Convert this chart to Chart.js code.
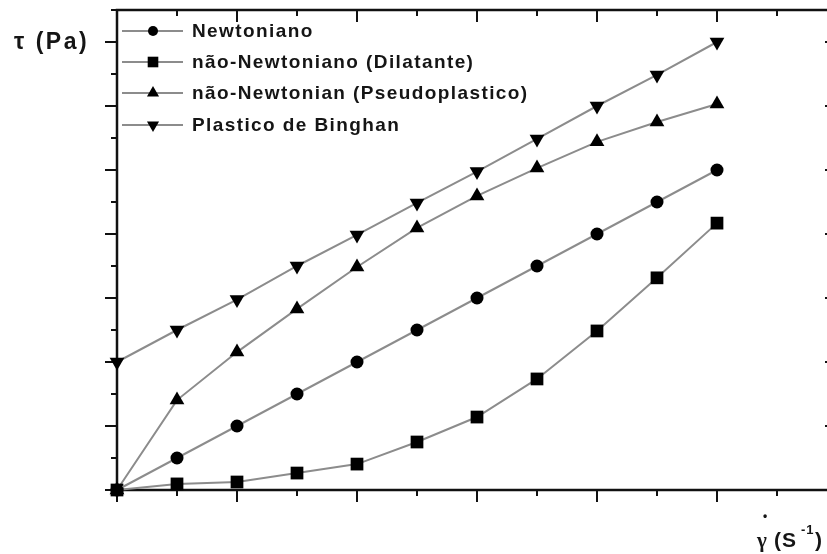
<!DOCTYPE html>
<html>
<head>
<meta charset="utf-8">
<script src="https://cdn.jsdelivr.net/npm/chart.js@4.4.1/dist/chart.umd.min.js"></script>
<style>
  html, body { margin: 0; padding: 0; background: #fff; overflow: hidden; }
  #rheo_chart { display: block; }
</style>
</head>
<body>
<canvas id="rheo_chart" width="850" height="554"></canvas>
<script>
// shear rate steps (the original axis has no numbers, only ticks)
var shear_rate = [0, 1, 2, 3, 4, 5, 6, 7, 8, 9, 10];

// shear stress (1 unit = one minor tick)
var newtoniano  = [0, 1, 2, 3, 4, 5, 6, 7, 8, 9, 10];
var dilatante   = [0, 0.19, 0.25, 0.53, 0.81, 1.5, 2.28, 3.47, 4.97, 6.63, 8.34];
var pseudoplast = [0, 2.81, 4.31, 5.66, 6.97, 8.19, 9.19, 10.06, 10.88, 11.5, 12.06];
var bingham     = [4, 5, 5.95, 7, 7.97, 8.97, 9.95, 10.97, 12, 12.97, 14];

var series_names = ["Newtoniano", "não-Newtoniano (Dilatante)", "não-Newtonian (Pseudoplastico)", "Plastico de Binghan"];

// tick positions (no tick labels on this chart)
var x_major = [0, 2, 4, 6, 8, 10, 12];
var x_minor = [1, 3, 5, 7, 9, 11];
var y_major = [0, 2, 4, 6, 8, 10, 12, 14];
var y_minor = [1, 3, 5, 7, 9, 11, 13, 15];

var markers = [
  { pointStyle: "circle",   radius: 6.5, rotation: 0 },
  { pointStyle: "rect",     radius: 9,   rotation: 0 },
  { pointStyle: "triangle", radius: 8.5, rotation: 0 },
  { pointStyle: "triangle", radius: 8.5, rotation: 180 }
];

function to_points(values) {
  var pts = [];
  for (var i in shear_rate) {
    pts.push({ x: shear_rate[i], y: values[i] });
  }
  return pts;
}

function make_dataset(values, k) {
  return {
    label: series_names[k],
    data: to_points(values),
    borderColor: "#8c8c8c",
    borderWidth: 2,
    backgroundColor: "#000",
    pointBackgroundColor: "#000",
    pointBorderColor: "#000",
    pointBorderWidth: 0,
    pointStyle: markers[k].pointStyle,
    pointRadius: markers[k].radius,
    pointRotation: markers[k].rotation,
    tension: 0,
    fill: false,
    clip: false
  };
}

function line(ctx, x1, y1, x2, y2) {
  ctx.beginPath();
  ctx.moveTo(x1, y1);
  ctx.lineTo(x2, y2);
  ctx.stroke();
}

// box + ticks, drawn under the data like the original
var frame_plugin = {
  id: "frame",
  beforeDatasetsDraw: function(chart) {
    var ctx = chart.ctx, a = chart.chartArea;
    var xs = chart.scales.x, ys = chart.scales.y;
    ctx.save();
    ctx.strokeStyle = "#111";
    ctx.lineWidth = 2.5;
    ctx.strokeRect(a.left, a.top, a.right - a.left, a.bottom - a.top);
    ctx.lineWidth = 2;
    x_major.forEach(function(v) {
      var px = xs.getPixelForValue(v);
      line(ctx, px, a.bottom, px, a.bottom + 12);
      line(ctx, px, a.top, px, a.top + 12);
    });
    x_minor.forEach(function(v) {
      var px = xs.getPixelForValue(v);
      line(ctx, px, a.bottom, px, a.bottom + 6);
      line(ctx, px, a.top, px, a.top + 6);
    });
    y_major.forEach(function(v) {
      var py = ys.getPixelForValue(v);
      line(ctx, a.left, py, a.left - 12, py);
      line(ctx, a.right, py, a.right - 12, py);
    });
    y_minor.forEach(function(v) {
      var py = ys.getPixelForValue(v);
      line(ctx, a.left, py, a.left - 6, py);
      line(ctx, a.right, py, a.right - 6, py);
    });
    ctx.restore();
  }
};

// legend in the upper left corner + axis titles
var legend_plugin = {
  id: "legend_box",
  afterDraw: function(chart) {
    var ctx = chart.ctx, a = chart.chartArea;
    ctx.save();
    var row_y = [31, 62, 93, 125];
    for (var k = 0; k < series_names.length; k++) {
      var y = row_y[k];
      ctx.strokeStyle = "#8c8c8c";
      ctx.lineWidth = 2;
      line(ctx, a.left + 5, y, a.left + 66, y);
      ctx.fillStyle = "#000";
      Chart.helpers.drawPoint(ctx, {
        pointStyle: markers[k].pointStyle,
        radius: markers[k].radius - 1.5,
        rotation: markers[k].rotation,
        borderWidth: 0
      }, a.left + 36, y);
      ctx.fillStyle = "#151515";
      ctx.font = "bold 19px 'Liberation Sans', Arial, sans-serif";
      ctx.letterSpacing = "1.4px";
      ctx.textBaseline = "middle";
      ctx.textAlign = "left";
      ctx.fillText(series_names[k], a.left + 75, y + 1);
    }

    // y title
    ctx.font = "bold 23px 'Liberation Sans', Arial, sans-serif";
    ctx.letterSpacing = "2.5px";
    ctx.textBaseline = "middle";
    ctx.fillStyle = "#151515";
    ctx.fillText("τ (Pa)", 14, 43);

    // x title
    ctx.letterSpacing = "1px";
    ctx.textBaseline = "alphabetic";
    ctx.font = "bold 21px 'Liberation Serif', serif";
    ctx.fillText("γ", 757, 547);
    ctx.textAlign = "center";
    ctx.letterSpacing = "0px";
    ctx.font = "bold 12px 'Liberation Sans', Arial, sans-serif";
    ctx.fillText("•", 765, 520);
    ctx.textAlign = "left";
    ctx.letterSpacing = "1px";
    ctx.font = "bold 21px 'Liberation Sans', Arial, sans-serif";
    ctx.fillText("(S", 774, 547);
    ctx.font = "bold 13px 'Liberation Sans', Arial, sans-serif";
    ctx.fillText("-1", 801, 534);
    ctx.font = "bold 21px 'Liberation Sans', Arial, sans-serif";
    ctx.fillText(")", 815, 547);
    ctx.restore();
  }
};

new Chart(document.getElementById("rheo_chart"), {
  type: "line",
  data: {
    datasets: [
      make_dataset(newtoniano, 0),
      make_dataset(dilatante, 1),
      make_dataset(pseudoplast, 2),
      make_dataset(bingham, 3)
    ]
  },
  options: {
    responsive: false,
    animation: false,
    events: [],
    layout: { padding: { left: 117, top: 10, right: 13, bottom: 64 } },
    scales: {
      x: { type: "linear", display: false, min: 0, max: 12 },
      y: { type: "linear", display: false, min: 0, max: 15 }
    },
    plugins: {
      legend: { display: false },
      tooltip: { enabled: false },
      title: { display: false }
    }
  },
  plugins: [frame_plugin, legend_plugin]
});
</script>
</body>
</html>
